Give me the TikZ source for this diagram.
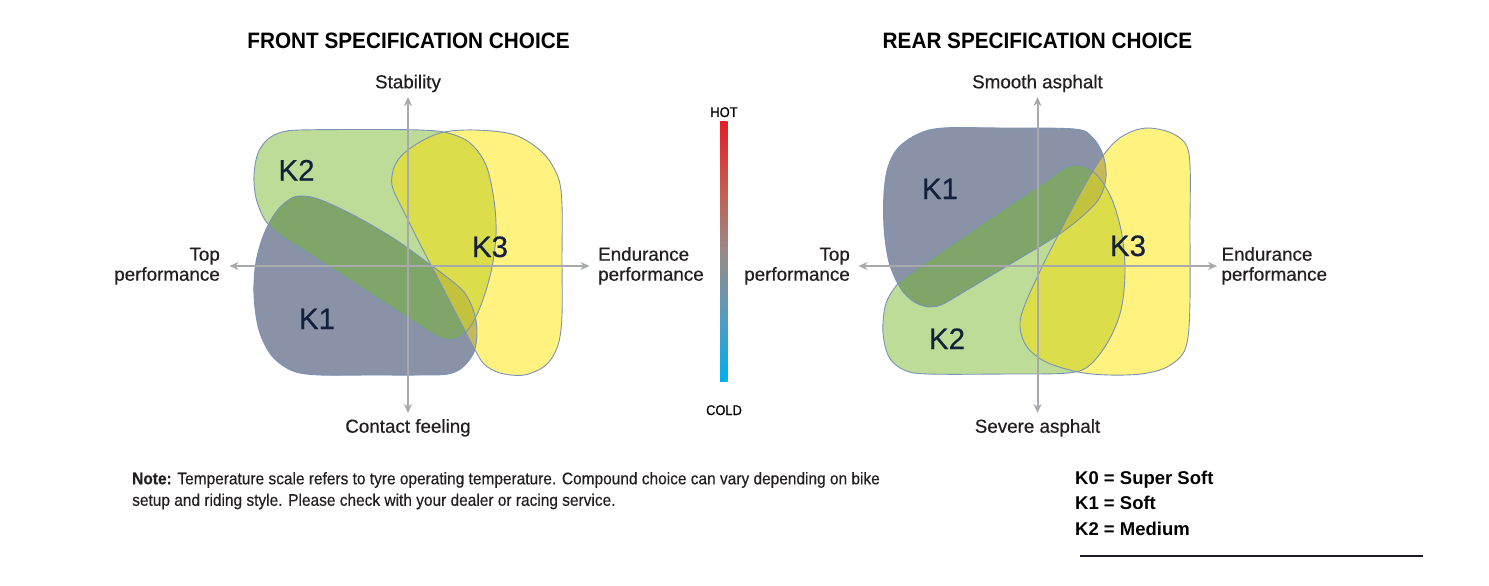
\documentclass[tikz,border=0pt]{standalone}
\usepackage{fontspec}
\setmainfont{Liberation Sans}
\newfontfamily\condfont{Liberation Sans}[FakeStretch=0.92]
\newfontfamily\medfont{Liberation Sans}[FakeBold=0.5]
\newfontfamily\medcondfont{Liberation Sans}[FakeStretch=0.92,FakeBold=0.4]
\newfontfamily\titlefont{Liberation Sans}[FakeStretch=0.93]
\usetikzlibrary{arrows.meta}
\definecolor{txt}{HTML}{231F20}
\definecolor{knavy}{HTML}{14213D}
\definecolor{kone}{HTML}{8A92A8}
\definecolor{ktwo}{HTML}{BCDC98}
\definecolor{kthree}{HTML}{FFF27E}
\definecolor{konetwo}{HTML}{7FA568}
\definecolor{ktwothree}{HTML}{DCDD4B}
\definecolor{konethree}{HTML}{C6B95C}
\definecolor{kall}{HTML}{C3C23E}
\definecolor{edgecol}{HTML}{7A93B6}
\definecolor{axiscol}{HTML}{A7A9AC}
\definecolor{hotcol}{RGB}{227,30,38}
\definecolor{midred}{RGB}{196,96,84}
\definecolor{midcol}{RGB}{152,138,136}
\definecolor{midblue}{RGB}{108,150,176}
\definecolor{coldcol}{RGB}{0,174,239}
\definecolor{rulecol}{HTML}{1B1B2B}
\pgfdeclareverticalshading{tempbar}{100bp}{color(0bp)=(coldcol); color(25bp)=(coldcol); color(41bp)=(midblue); color(50bp)=(midcol); color(61bp)=(midred); color(75bp)=(hotcol); color(100bp)=(hotcol)}
\tikzset{
  axisline/.style={draw=axiscol, line width=2pt, {Stealth[length=9pt,width=8pt]}-{Stealth[length=9pt,width=8pt]}},
  axislabel/.style={inner sep=0pt, text=txt, font=\medfont\fontsize{18.8}{20}\selectfont},
  klabel/.style={inner sep=0pt, anchor=base, text=knavy, font=\medfont\fontsize{29.5}{30}\selectfont},
  titlelabel/.style={inner sep=0pt, anchor=base, text=black, font=\titlefont\bfseries\fontsize{22.3}{24}\selectfont},
  notelabel/.style={inner sep=0pt, anchor=base west, text=txt, font=\medcondfont\fontsize{16.8}{20}\selectfont},
  legendlabel/.style={inner sep=0pt, anchor=base west, text=black, font=\bfseries\fontsize{18.5}{20}\selectfont},
  templabel/.style={inner sep=0pt, anchor=base, text=black, font=\medcondfont\fontsize{14}{16}\selectfont},
  blobedge/.style={draw=edgecol, line width=0.9pt},
}
% Left chart shapes
\def\LA{plot[smooth cycle, tension=0.55] coordinates {(302,196) (321,200) (357,217) (396,240) (428,263) (448,278) (464,292) (474,312) (477,332) (474,352) (463,367) (448,374) (420,375) (370,375) (320,375) (293,371) (272,356) (259,330) (254,295) (256,262) (264,234) (276,212) (290,199)}}
\def\LB{plot[smooth cycle, tension=0.55] coordinates {(300,130) (360,129.5) (420,130) (448,133) (470,143) (486,165) (494,200) (496,235) (491,272) (481,305) (470,327) (458,338) (444,339) (425,329) (385,303) (345,277) (305,251) (280,235) (265,220) (256,198) (254,175) (258,153) (268,139) (282,132)}}
\def\LC{plot[smooth cycle, tension=0.55] coordinates {(392,185) (396,163) (412,147) (440,133) (475,130) (515,135) (543,153) (558,177) (562,205) (562,260) (562,315) (558,345) (546,365) (524,375) (500,373) (484,364) (474,348) (462,325) (447,296) (432,267) (418,240) (404,212)}}
% Right chart shapes
\def\RA{plot[smooth cycle, tension=0.55] coordinates {(943,128) (1000,128) (1074,129) (1092,137) (1103,155) (1106,177) (1100,197) (1086,213) (1058,235) (1007,266) (967,290) (943,304) (930,307) (916,303) (904,293) (895,278) (888,258) (884,227) (884,193) (888,167) (898,148) (918,134)}}
\def\RB{plot[smooth cycle, tension=0.55] coordinates {(1074,165) (1088,168) (1101,180) (1113,202) (1122,235) (1125,273) (1121,310) (1109,340) (1090,365) (1068,373) (1007,374) (928,374) (904,370) (889,357) (883,333) (885,307) (893,290) (906,277) (947,248) (1007,207) (1046,181) (1063,169)}}
\def\RC{plot[smooth cycle, tension=0.55] coordinates {(1149,128) (1169,132) (1185,143) (1190,165) (1190,227) (1190,300) (1188,337) (1182,355) (1165,368) (1141,374) (1109,375) (1078,372) (1046,362) (1027,347) (1020,327) (1024,307) (1042,267) (1066,220) (1086,183) (1102,157) (1117,140) (1133,131)}}
\begin{document}
\begin{tikzpicture}[x=1pt,y=-1pt]
\useasboundingbox (0,0) rectangle (1489,586);
\fill[white] (0,0) rectangle (1489,586);

% ---------- left chart blobs ----------
\fill[kone] \LA;
\fill[ktwo] \LB;
\fill[kthree] \LC;
\begin{scope}\clip \LA; \fill[konetwo] \LB; \end{scope}
\begin{scope}\clip \LB; \fill[ktwothree] \LC; \end{scope}
\begin{scope}\clip \LA; \fill[konethree] \LC; \end{scope}
\begin{scope}\clip \LA; \clip \LB; \fill[kall] \LC; \end{scope}
\draw[blobedge] \LA;
\draw[blobedge] \LB;
\draw[blobedge] \LC;

% ---------- right chart blobs ----------
\fill[kone] \RA;
\fill[ktwo] \RB;
\fill[kthree] \RC;
\begin{scope}\clip \RA; \fill[konetwo] \RB; \end{scope}
\begin{scope}\clip \RB; \fill[ktwothree] \RC; \end{scope}
\begin{scope}\clip \RA; \fill[konethree] \RC; \end{scope}
\begin{scope}\clip \RA; \clip \RB; \fill[kall] \RC; \end{scope}
\draw[blobedge] \RA;
\draw[blobedge] \RB;
\draw[blobedge] \RC;

% ---------- axes ----------
\coordinate (lW) at (229.5,266);
\coordinate (lE) at (589.5,266);
\coordinate (lN) at (408,97);
\coordinate (lS) at (408,413);
\coordinate (rW) at (858.5,266);
\coordinate (rE) at (1217,266);
\coordinate (rN) at (1037.5,97);
\coordinate (rS) at (1037.5,413);
\draw[axisline] (lW) -- (lE);
\draw[axisline] (lN) -- (lS);
\draw[axisline] (rW) -- (rE);
\draw[axisline] (rN) -- (rS);

% ---------- K labels ----------
\node[klabel] (lk2) at (296.5,180.5) {K2};
\node[klabel] (lk1) at (317,329) {K1};
\node[klabel] (lk3) at (490,257) {K3};
\node[klabel] (rk1) at (940,199) {K1};
\node[klabel] (rk2) at (947,349) {K2};
\node[klabel] (rk3) at (1128,256) {K3};

% ---------- titles ----------
\node[titlelabel] (t1) at (408.5,48.3) {FRONT SPECIFICATION CHOICE};
\node[titlelabel] (t2) at (1037.5,48.3) {REAR SPECIFICATION CHOICE};

% ---------- axis labels ----------
\node[axislabel, anchor=base] (lNt) at (408,88.3) {Stability};
\node[axislabel, anchor=base] (lSt) at (408,432.7) {Contact feeling};
\node[axislabel, anchor=base east] (lWt1) at (220,260.7) {Top};
\node[axislabel, anchor=base east] (lWt2) at (220,280.7) {performance};
\node[axislabel, anchor=base west] (lEt1) at (598,260.7) {Endurance};
\node[axislabel, anchor=base west] (lEt2) at (598,280.7) {performance};

\node[axislabel, anchor=base] (rNt) at (1037.5,88.3) {Smooth asphalt};
\node[axislabel, anchor=base] (rSt) at (1037.5,432.7) {Severe asphalt};
\node[axislabel, anchor=base east] (rWt1) at (850,260.7) {Top};
\node[axislabel, anchor=base east] (rWt2) at (850,280.7) {performance};
\node[axislabel, anchor=base west] (rEt1) at (1221.3,260.7) {Endurance};
\node[axislabel, anchor=base west] (rEt2) at (1221.3,280.7) {performance};

% ---------- temperature bar ----------
\shade[shading=tempbar] (720,121.7) rectangle (727.7,381.7);
\node[templabel] (hot) at (724,117) {HOT};
\node[templabel] (cold) at (724,415) {COLD};

% ---------- note ----------
\node[notelabel] (n1) at (132,484.3) {\textbf{Note:} Temperature scale refers to tyre operating temperature. Compound choice can vary depending on bike};
\node[notelabel] (n2) at (132,505.8) {setup and riding style. Please check with your dealer or racing service.};

% ---------- legend ----------
\node[legendlabel] (g0) at (1075,484.3) {K0 = Super Soft};
\node[legendlabel] (g1) at (1075,509.8) {K1 = Soft};
\node[legendlabel] (g2) at (1075,535.3) {K2 = Medium};
\coordinate (ruleA) at (1080,556);
\coordinate (ruleB) at (1422.5,556);
\draw[rulecol, line width=1.3pt] (ruleA) -- (ruleB);
\end{tikzpicture}
\end{document}
